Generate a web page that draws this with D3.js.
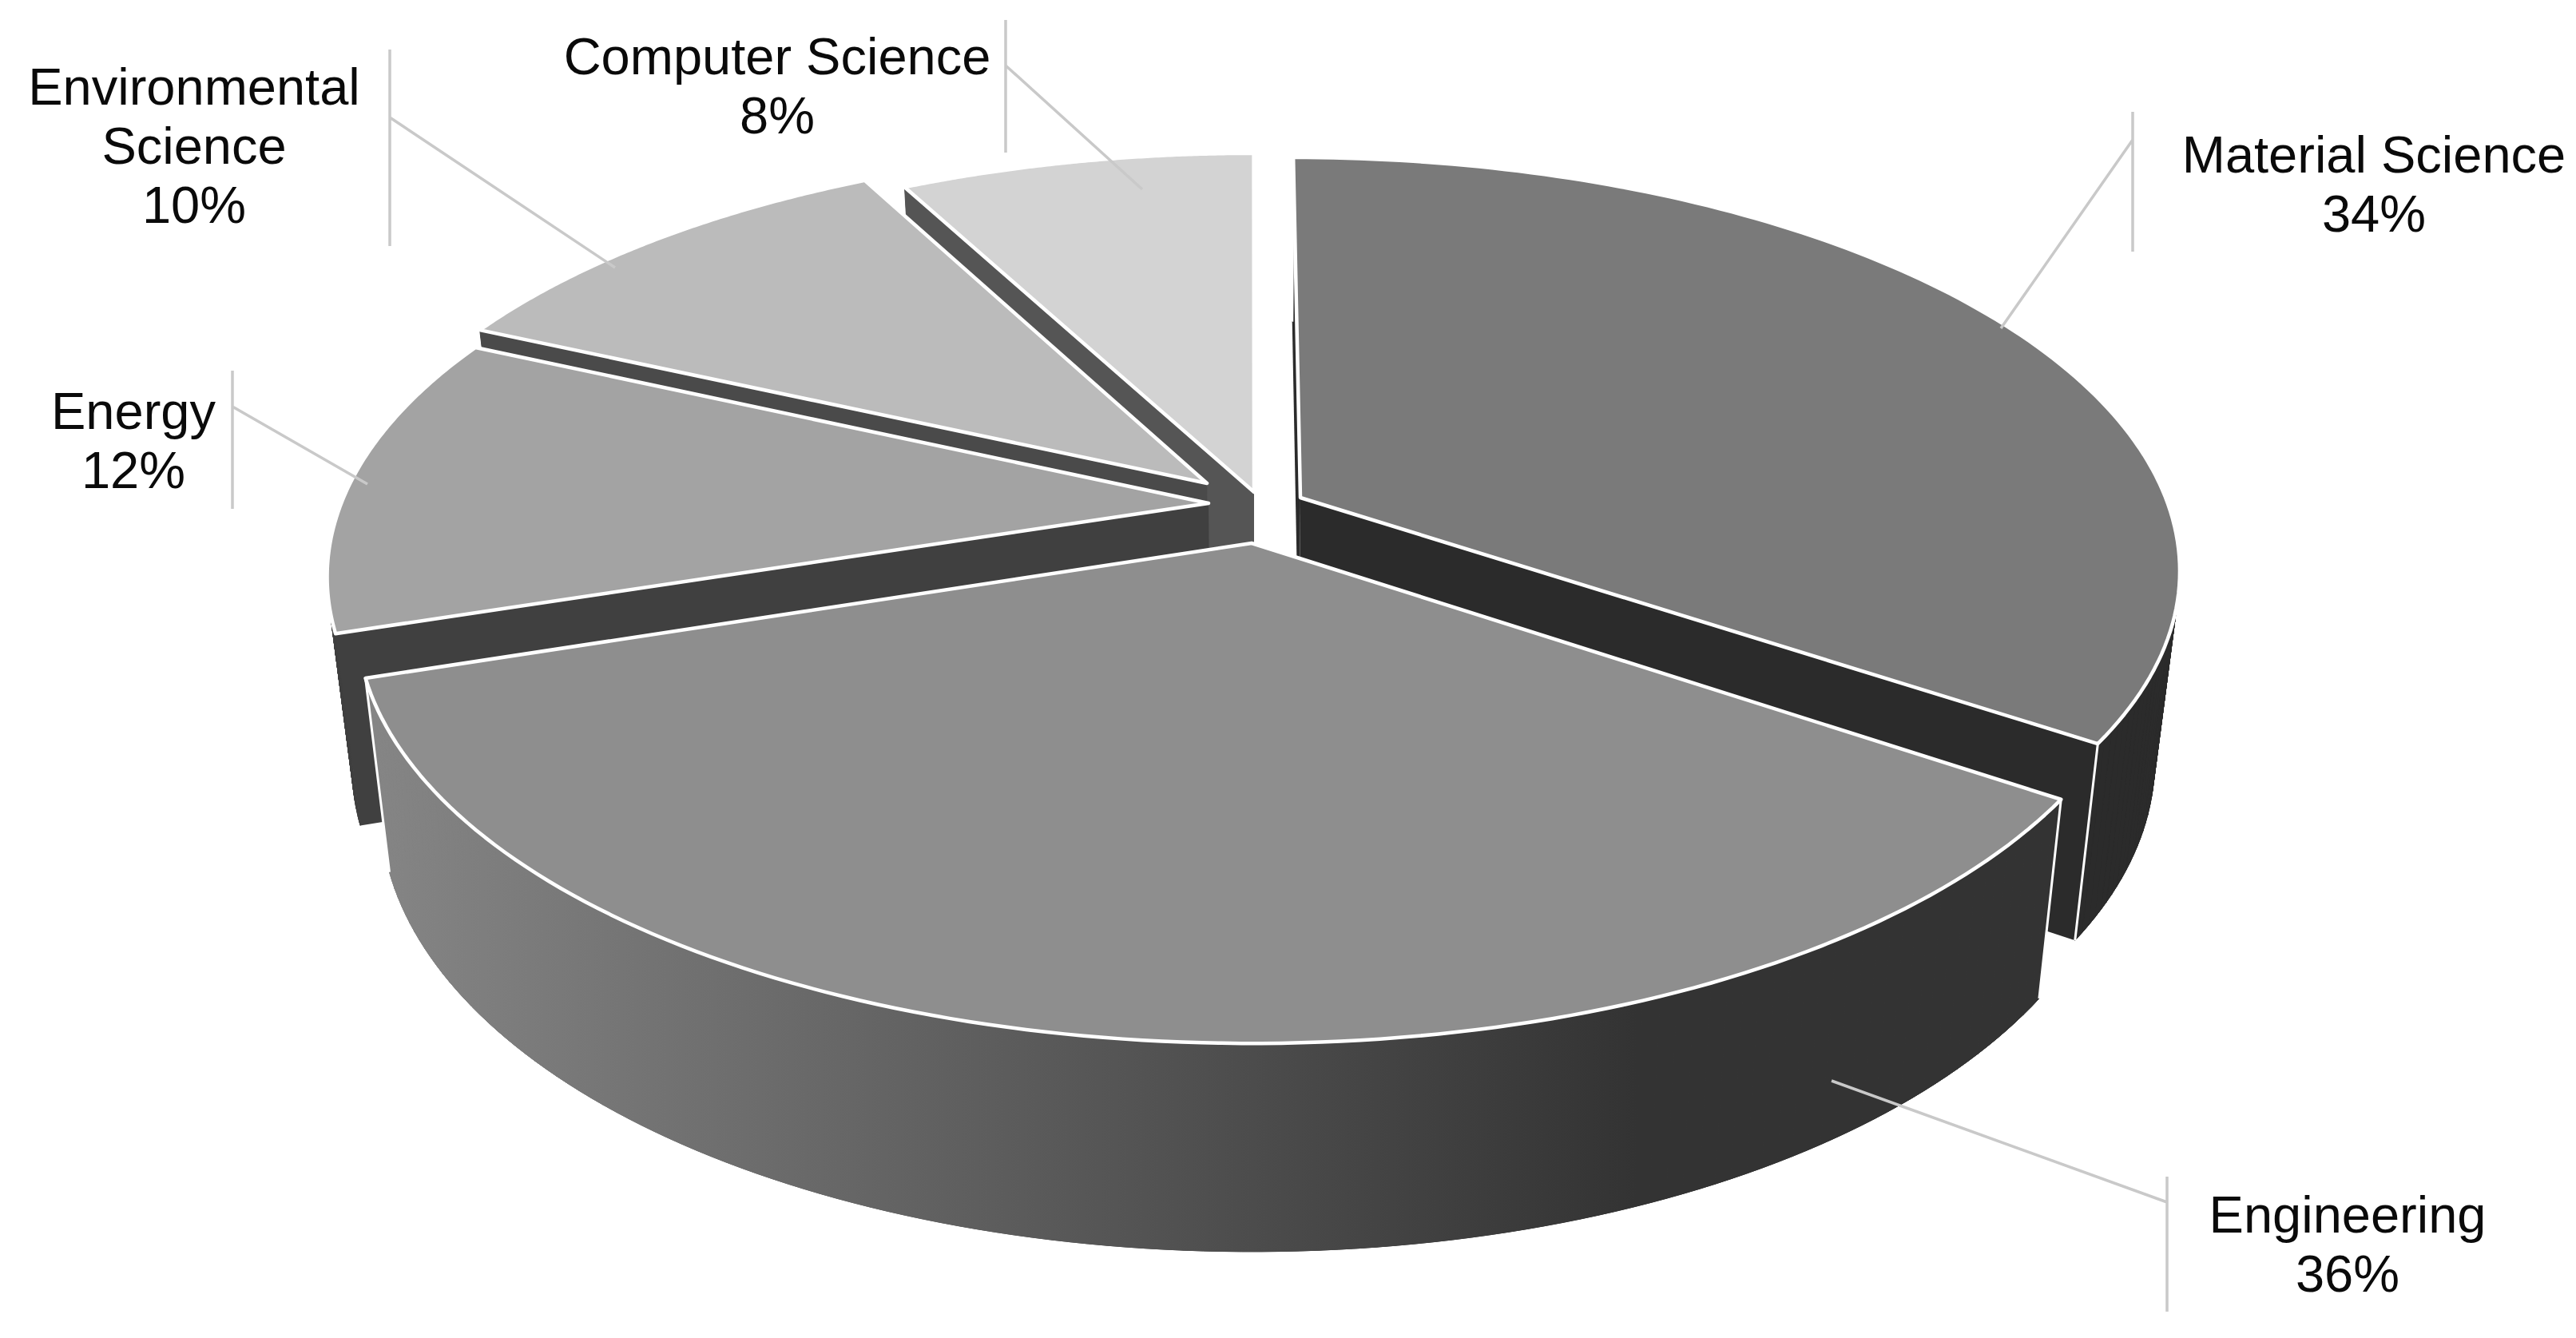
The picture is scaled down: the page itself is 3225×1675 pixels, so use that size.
<!DOCTYPE html>
<html>
<head>
<meta charset="utf-8">
<script src="https://cdn.jsdelivr.net/npm/d3@7"></script>
<style>
html, body { margin: 0; background: #fff; }
svg { display: block; }
text { font-family: "Liberation Sans", Arial, sans-serif; font-size: 65px; fill: #0a0a0a; text-anchor: middle; }
</style>
</head>
<body>
<svg width="3225" height="1675"></svg>
<script>
const categories = ['Material Science', 'Engineering', 'Energy', 'Environmental Science', 'Computer Science']
const values = [34.45, 35.55, 11.85, 10.45, 7.7]

// screen look of each slice
const topColors = ['#7a7a7a', '#8e8e8e', '#a3a3a3', '#bbbbbb', '#d3d3d3']
const wallColors = ['#2b2b2b', '#353535', '#404040', '#4a4a4a', '#555555']
const apexes = [[1628, 623], [1567, 680], [1513, 630], [1511, 605], [1570, 616]]
const labelLines = [['Material Science'], ['Engineering'], ['Energy'], ['Environmental', 'Science'], ['Computer Science']]
const labelX = [2972, 2939, 167, 243, 973]
const labelY = [216, 1543, 537, 131, 93]
// leader: [bar x, bar top, bar bottom, elbow y, end x, end y]
const leaders = [
  [2670, 140, 315, 175, 2505, 411],
  [2713, 1473, 1642, 1505, 2293, 1353],
  [291, 464, 637, 509, 460, 606],
  [488, 62, 308, 147, 770, 335],
  [1259, 25, 191, 82, 1430, 237]
]
const drawOrder = [4, 3, 2, 0, 1]

const cx = 1567, cy = 628
const R = 1085, a = 500, k = 0.17
const slant = 0.027

const svg = d3.select('svg')
const fmt = d3.format('.0f')
const line = d3.line()

const grad = svg.append('defs').append('linearGradient')
  .attr('id', 'engWall')
  .attr('gradientUnits', 'userSpaceOnUse')
  .attr('x1', 470).attr('x2', 2050).attr('y1', 0).attr('y2', 0)
grad.append('stop').attr('offset', 0).attr('stop-color', '#858585')
grad.append('stop').attr('offset', 1).attr('stop-color', '#333333')

const arcs = d3.pie().sort(null).value(d => d)(values)

// ground plane -> screen
function project(X, Y) {
  const w = 1 - k * Y
  return [cx + R * X / w, cy + a * Y / w]
}
// screen apex -> ground plane
function ground(p) {
  const v = p[1] - cy
  const Y = v / (a + k * v)
  return [(p[0] - cx) * (1 - k * Y) / R, Y]
}
function lower(p, Y) {
  return [p[0] + slant * (cx - p[0]), p[1] + 232 + 26 * Y]
}

const slices = arcs.map((d, i) => {
  const [ex, ey] = ground(apexes[i])
  const steps = d3.range(0, 121).map(s => d.startAngle + (d.endAngle - d.startAngle) * s / 120)
  const grounds = steps.map(t => [ex + Math.sin(t), ey - Math.cos(t)])
  const rim = grounds.map(g => project(g[0], g[1]))
  const rimLow = grounds.map((g, j) => lower(rim[j], g[1]))
  const apex = project(ex, ey)
  const apexLow = lower(apex, ey)
  return { i, rim, rimLow, apex, apexLow }
})

const g = svg.append('g')
  .attr('stroke', '#fff')
  .attr('stroke-linejoin', 'round')

drawOrder.forEach(i => {
  const s = slices[i]
  const last = s.rim.length - 1
  const sg = g.append('g').attr('class', 'slice')
  const wallFill = i === 1 ? 'url(#engWall)' : wallColors[i]
  // outer wall, one strip per step so the silhouette stays filled
  sg.append('g').selectAll('path')
    .data(d3.range(last))
    .join('path')
    .attr('d', j => line([s.rim[j], s.rim[j + 1], s.rimLow[j + 1], s.rimLow[j]]) + 'Z')
    .attr('fill', wallFill)
    .attr('stroke', wallFill)
    .attr('stroke-width', 1)
  // radial walls
  sg.append('path')
    .attr('d', line([s.apex, s.rim[last], s.rimLow[last], s.apexLow]) + 'Z')
    .attr('fill', wallColors[i]).attr('stroke', 'none')
  sg.append('path')
    .attr('d', line([s.apex, s.rim[0], s.rimLow[0], s.apexLow]) + 'Z')
    .attr('fill', wallColors[i]).attr('stroke', 'none')
  // the two big slices keep their outer wall in front of the radial one
  if (i < 2) {
    sg.append('g').selectAll('path')
      .data(d3.range(last))
      .join('path')
      .attr('d', j => line([s.rim[j], s.rim[j + 1], s.rimLow[j + 1], s.rimLow[j]]) + 'Z')
      .attr('fill', wallFill)
      .attr('stroke', wallFill)
      .attr('stroke-width', 1)
    sg.append('path')
      .attr('d', line([s.rim[0], s.rimLow[0]]) + line([s.rim[last], s.rimLow[last]]))
      .attr('fill', 'none').attr('stroke-width', 3)
  }
  // top
  sg.append('path')
    .attr('d', line([s.apex].concat(s.rim)) + 'Z')
    .attr('fill', topColors[i]).attr('stroke-width', 4.5)
})

svg.append('g').selectAll('path')
  .data(leaders)
  .join('path')
  .attr('d', d => line([[d[0], d[1]], [d[0], d[2]]]) + line([[d[0], d[3]], [d[4], d[5]]]))
  .attr('fill', 'none')
  .attr('stroke', '#c9c9c9')
  .attr('stroke-width', 3.5)

const labels = svg.append('g').selectAll('text')
  .data(categories)
  .join('text')
  .attr('x', (d, i) => labelX[i])
  .attr('y', (d, i) => labelY[i])

labels.each(function (d, i) {
  const t = d3.select(this)
  labelLines[i].concat([fmt(values[i]) + '%']).forEach((txt, j) => {
    t.append('tspan').attr('x', labelX[i]).attr('dy', j === 0 ? 0 : 74).text(txt)
  })
})
</script>
</body>
</html>
